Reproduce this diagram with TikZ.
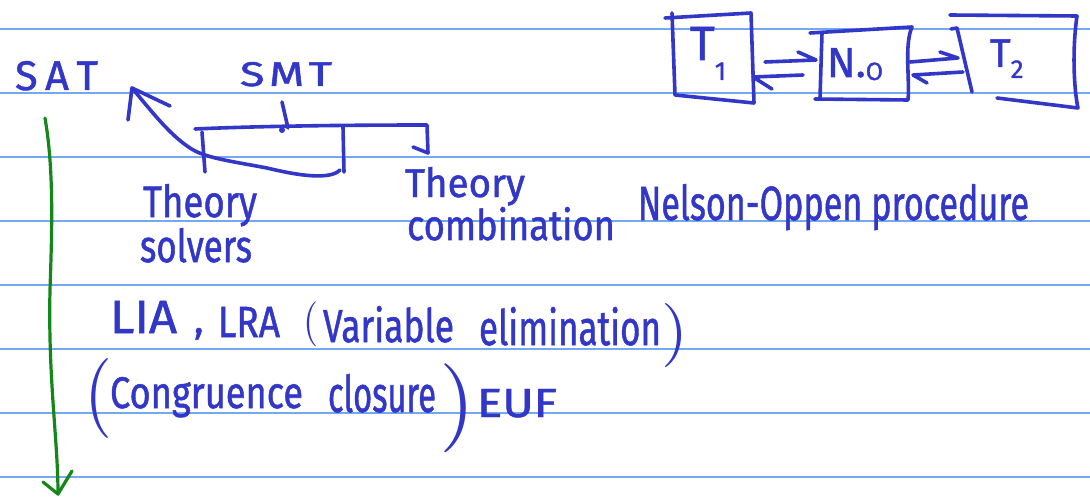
\documentclass[tikz,border=0pt]{standalone}
\usepackage{fontspec}
\setmainfont{Fira Sans}[FakeBold=1.2]
\usepackage{graphicx}
\definecolor{inkc}{HTML}{3337C8}
\definecolor{rulec}{HTML}{74A8F0}
\definecolor{greenc}{HTML}{14861A}
\newcommand\hwt[3]{\resizebox{#1pt}{#2pt}{#3}}
\newcommand\hwp[3]{\resizebox*{#1pt}{#2pt}{$#3$}}
\begin{document}
\begin{tikzpicture}[x=1pt,y=-1pt,
  ink/.style={draw=inkc, line width=3.6pt, line cap=round, line join=round},
  gink/.style={draw=greenc, line width=3.2pt, line cap=round, line join=round},
  rule/.style={draw=rulec, line width=1.6pt},
  hw/.style={inner sep=0pt, outer sep=0pt, text=inkc, anchor=base west},
  hwtop/.style={inner sep=0pt, outer sep=0pt, text=inkc, anchor=north west}]
\useasboundingbox[fill=white] (0,0) rectangle (1090,500);
% ruled paper
\foreach \yy in {29,93,157,221,285,349,413,477}
  \draw[rule] (0,\yy) -- (1090,\yy);

% texts
\node[hw] (sat) at (15,90) {\hwt{83}{29}{S\kern0.18em A\kern0.18em T}};
\node[hw] (smt) at (240,86) {\hwt{92}{24}{S\kern0.1em M\kern0.1em T}};
\node[hw] (thL) at (143,217) {\hwt{114}{33}{Theory}};
\node[hw] (solv) at (140,262) {\hwt{112}{34}{solvers}};
\node[hw] (thR) at (405,197) {\hwt{120}{30}{Theory}};
\node[hw] (comb) at (407,240) {\hwt{208}{33}{combination}};
\node[hw] (nop) at (638,220) {\hwt{391}{36}{Nelson-Oppen procedure}};
\node[hw] (lia) at (110,333) {\hwt{67}{32}{LIA}};
\node[hw] (comma) at (194,333) {\fontsize{40}{40}\selectfont ,};
\node[hw] (lra) at (218,337) {\hwt{62}{30}{LRA}};
\node[hwtop] (lp1) at (303,302) {\hwp{15}{45}{(}};
\node[hw] (var) at (323,342) {\hwt{131}{36}{Variable}};
\node[hw] (elim) at (479,345) {\hwt{182}{38}{elimination}};
\node[hwtop] (rp1) at (661,303) {\hwp{27}{64}{)}};
\node[hwtop] (lp2) at (84,358) {\hwp{28}{80}{(}};
\node[hw] (cong) at (110,408) {\hwt{193}{31}{Congruence}};
\node[hw] (clos) at (328,412) {\hwt{108}{38}{closure}};
\node[hwtop] (rp2) at (439,364) {\hwp{36}{89}{)}};
\node[hw] (euf) at (477,417) {\hwt{80}{28}{EUF}};

\node[hw] (t1) at (690,60) {\fontsize{48}{48}\selectfont T\raisebox{-20pt}{\fontsize{26}{26}\selectfont 1}};
\node[hw] (no) at (827,77) {\fontsize{42}{42}\selectfont N.\raisebox{-3pt}{\fontsize{25}{25}\selectfont O}};
\node[hw] (t2) at (990,67) {\fontsize{40}{40}\selectfont T\raisebox{-11pt}{\fontsize{26}{26}\selectfont 2}};

% boxes
\draw[ink] (665,18) -- (751,13) -- (754,103) -- (675,95) -- (672,13);
\draw[ink] (810,33) -- (912,27) .. controls (904,45) and (910,80) .. (908,100) -- (815,99);
\draw[ink] (822,33) -- (820,98);
\draw[ink] (950,15) -- (1077,16) .. controls (1072,50) and (1074,90) .. (1078,108) -- (997,98);
\draw[ink] (951,29) -- (957,28) -- (972,92);

% harpoons between boxes
\coordinate (a1s) at (765,62); \coordinate (a1e) at (816,60); \coordinate (a1b) at (798,52);
\draw[ink] (a1s) -- (a1e) -- (a1b);
\coordinate (a2s) at (803,75); \coordinate (a2e) at (753,77); \coordinate (a2b) at (772,89);
\draw[ink] (a2s) -- (a2e) -- (a2b);
\coordinate (a3s) at (910,62); \coordinate (a3e) at (958,58); \coordinate (a3b) at (940,52);
\draw[ink] (a3s) -- (a3e) -- (a3b);
\coordinate (a4s) at (963,72); \coordinate (a4e) at (913,75); \coordinate (a4b) at (927,83);
\draw[ink] (a4s) -- (a4e) -- (a4b);

% SMT bracket
\coordinate (brL) at (195,129); \coordinate (brR) at (427,125);
\draw[ink] (brL) .. controls (260,126) and (350,125) .. (brR) -- (428,153) -- (413,147);
\draw[ink] (202,132) -- (205,172);
\draw[ink] (343,127) -- (344,172);
\draw[ink] (282,102) -- (288,128);
\fill[inkc] (282,130) circle (3pt);

% curved arrow to SAT
\coordinate (satTip) at (132,88);
\draw[ink] (340,170) .. controls (330,180) and (300,176) .. (267,168)
  .. controls (230,161) and (205,158) .. (190,148)
  .. controls (170,135) and (152,112) .. (satTip);
\draw[ink] (170,106) -- (satTip) -- (128,120);

% green arrow
\coordinate (gTop) at (45,118); \coordinate (gTip) at (58,494);
\draw[gink] (gTop) .. controls (54,170) and (52,230) .. (50,290)
  .. controls (48,380) and (58,440) .. (gTip);
\draw[gink] (43,482) -- (gTip) -- (72,471);
\end{tikzpicture}
\end{document}
